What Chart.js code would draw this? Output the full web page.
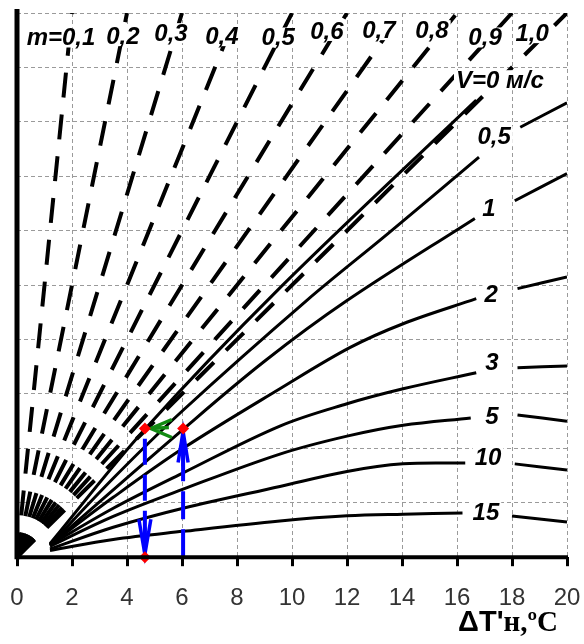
<!DOCTYPE html>
<html>
<head>
<meta charset="utf-8">
<script src="https://cdn.jsdelivr.net/npm/chart.js@4.4.1/dist/chart.umd.min.js"></script>
<style>
  html, body { margin: 0; padding: 0; background: #fff; }
  #wrap { width: 584px; height: 644px; }
</style>
</head>
<body>
<div id="wrap"><canvas id="chart"></canvas></div>
<script>
// x axis ticks
const xTicks = [0, 2, 4, 6, 8, 10, 12, 14, 16, 18, 20];

// dashed rays m = const, from the origin to the top edge
const mLabels = ['m=0,1', '0,2', '0,3', '0,4', '0,5', '0,6', '0,7', '0,8', '0,9', '1,0'];
const mTopX = [2, 4, 6, 8, 10, 12, 14, 16, 18, 20];
const mTopY = [20, 20, 20, 20, 20, 20, 20, 20, 20, 20];

// solid curves V = const (null = gap for the label)
const vLabels = ['V=0 м/с', '0,5', '1', '2', '3', '5', '10', '15'];
const v0   = [[1.2, 0.5], [4.65, 4.7], [9.56, 9.9], [16.7, 16.8]];
const v05  = [[1.2, 0.45], [3.5, 2.9], [6.04, 5.4], [10.53, 9.43], [13.5, 11.9], [16.8, 14.7], [17.5, null], [18.3, 15.8], [20, 16.7]];
const v1   = [[1.2, 0.45], [6.04, 4.7], [9, 7.2], [12, 9.43], [16.65, 12.45], [17.3, null], [18.1, 13.1], [20, 14.1]];
const v2   = [[1.2, 0.45], [3.5, 2.2], [6.04, 4.0], [9.56, 6.19], [12.1, 7.7], [14.04, 8.58], [16.7, 9.5], [17.4, null], [18.2, 9.87], [20, 10.3]];
const v3   = [[1.2, 0.45], [3.5, 1.8], [6.04, 3.1], [9.56, 4.82], [12, 5.64], [14.04, 6.19], [16.7, 6.78], [17.4, null], [18.2, 6.96], [20, 7.03]];
const v5   = [[1.2, 0.4], [3.5, 1.5], [6.04, 2.5], [9.56, 3.79], [12, 4.45], [14.04, 4.85], [16.5, 5.12], [17.3, null], [18.2, 5.23], [20, 5.0]];
const v10  = [[1.2, 0.3], [3.5, 1.1], [6.04, 1.8], [9.56, 2.6], [12, 3.15], [14.04, 3.43], [16.3, 3.46], [17.2, null], [18.1, 3.43], [20, 3.2]];
const v15  = [[1.2, 0.25], [3.5, 0.65], [6.04, 0.95], [9.56, 1.33], [12, 1.52], [14.04, 1.58], [16.2, 1.62], [17.1, null], [18, 1.51], [20, 1.29]];
const vCurves = [v0, v05, v1, v2, v3, v5, v10, v15];

// label anchors (data units)
const mLabelAt = [[1.6, 19.1], [3.85, 19.15], [5.6, 19.26], [7.45, 19.15], [9.5, 19.1],
                  [11.27, 19.34], [13.16, 19.37], [15.09, 19.37], [17.02, 19.1], [18.73, 19.26]];
const vLabelAt = [[17.56, 17.53], [17.35, 15.47], [17.16, 12.82], [17.24, 9.65],
                  [17.27, 7.15], [17.27, 5.16], [17.13, 3.68], [17.05, 1.66]];

// worked example: from dT on the axis up to the curve, left to V=0, down to dT'н
const exampleX = [4.65, 6.04, 4.65];
const exampleY = [4.73, 4.73, 0];

const toPts = arr => arr.map(p => ({ x: p[0], y: p[1] }));

const datasets = [];

// red points
datasets.push({
  data: exampleX.map((v, i) => ({ x: v, y: exampleY[i] })),
  showLine: false,
  pointStyle: 'rectRot',
  pointRadius: 6,
  pointBackgroundColor: '#ff0000',
  pointBorderColor: '#ff0000',
  pointBorderWidth: 0,
  clip: 10,
  order: 0
});

// blue guides
datasets.push({
  data: [{ x: exampleX[1], y: 0 }, { x: exampleX[1], y: 4.35 }],
  showLine: true, pointRadius: 0,
  borderColor: '#0000ff', borderWidth: 4, borderDash: [28, 10],
  order: 1, blueGuide: true
});
datasets.push({
  data: [{ x: exampleX[0], y: 4.35 }, { x: exampleX[0], y: 0.2 }],
  showLine: true, pointRadius: 0,
  borderColor: '#0000ff', borderWidth: 4, borderDash: [26, 10],
  order: 1
});

vCurves.forEach(c => {
  datasets.push({
    data: toPts(c),
    showLine: true, pointRadius: 0,
    borderColor: '#000', borderWidth: 3,
    tension: 0.35, spanGaps: false,
    order: 2
  });
});

mTopX.forEach((tx, i) => {
  datasets.push({
    data: [{ x: 0, y: 0 }, { x: tx, y: mTopY[i] }],
    showLine: true, pointRadius: 0,
    borderColor: '#000', borderWidth: 4, borderDash: [25, 17],
    order: 3
  });
});

const overlay = {
  id: 'overlay',
  afterDatasetDraw(chart, args) {
    // arrows, right after the blue guide so the red points sit on top
    if (!chart.data.datasets[args.index].blueGuide) return;
    const { ctx, scales: { x, y } } = chart;
    const xl = x.getPixelForValue(exampleX[0]);
    const xr = x.getPixelForValue(exampleX[1]);
    const yt = y.getPixelForValue(exampleY[0]);
    const yb = y.getPixelForValue(exampleY[2]);
    ctx.save();
    ctx.strokeStyle = '#0000ff';
    ctx.lineWidth = 3.5;
    ctx.lineJoin = 'miter';
    // up arrow on the right guide
    ctx.beginPath();
    ctx.moveTo(xr - 5, yt + 34); ctx.lineTo(xr, yt + 3); ctx.lineTo(xr + 5, yt + 34);
    ctx.moveTo(xr, yt + 3); ctx.lineTo(xr, yt + 38);
    ctx.stroke();
    // down arrow on the left guide
    ctx.beginPath();
    ctx.moveTo(xl - 6, yb - 38); ctx.lineTo(xl, yb - 3); ctx.lineTo(xl + 6, yb - 38);
    ctx.moveTo(xl, yb - 3); ctx.lineTo(xl, yb - 30);
    ctx.stroke();
    // green arrow to the left
    ctx.strokeStyle = '#128a12';
    ctx.lineWidth = 3.5;
    ctx.beginPath();
    ctx.moveTo(xl + 27, yt - 9); ctx.lineTo(xl + 6, yt); ctx.lineTo(xl + 27, yt + 9);
    ctx.moveTo(xl + 6, yt); ctx.lineTo(xl + 24, yt - 1);
    ctx.stroke();
    ctx.restore();
  },
  afterDraw(chart) {
    const { ctx, chartArea: a, scales: { x, y } } = chart;
    ctx.save();
    // axes
    ctx.strokeStyle = '#000';
    ctx.lineWidth = 5;
    ctx.beginPath();
    ctx.moveTo(a.left, a.top - 4);
    ctx.lineTo(a.left, a.bottom + 2);
    ctx.stroke();
    ctx.lineWidth = 4;
    ctx.beginPath();
    ctx.moveTo(a.left, a.bottom);
    ctx.lineTo(a.right + 1, a.bottom);
    ctx.stroke();

    // curve labels
    ctx.font = 'italic bold 24px "Liberation Sans", Arial, sans-serif';
    ctx.textAlign = 'center';
    ctx.textBaseline = 'middle';
    const label = (t, p) => {
      const px = x.getPixelForValue(p[0]);
      const py = y.getPixelForValue(p[1]);
      const w = ctx.measureText(t).width;
      ctx.fillStyle = '#fff';
      ctx.fillRect(px - w / 2 - 2, py - 10, w + 4, 20);
      ctx.fillStyle = '#000';
      ctx.fillText(t, px, py + 1);
    };
    mLabels.forEach((t, i) => label(t, mLabelAt[i]));
    vLabels.forEach((t, i) => label(t, vLabelAt[i]));

    // axis title
    ctx.textAlign = 'left';
    ctx.textBaseline = 'alphabetic';
    ctx.fillStyle = '#000';
    ctx.font = 'bold 29px "Liberation Sans", Arial, sans-serif';
    const t1 = "ΔT'";
    const w1 = ctx.measureText(t1).width;
    ctx.font = 'bold 29px "Liberation Serif", "Times New Roman", serif';
    const t2 = 'н,ºC';
    const w2 = ctx.measureText(t2).width;
    const tx = 558 - w1 - w2;
    ctx.font = 'bold 29px "Liberation Sans", Arial, sans-serif';
    ctx.fillText(t1, tx, 631);
    ctx.font = 'bold 29px "Liberation Serif", "Times New Roman", serif';
    ctx.fillText(t2, tx + w1, 631);
    ctx.restore();
  }
};

new Chart(document.getElementById('chart'), {
  type: 'scatter',
  data: { datasets },
  options: {
    responsive: true,
    maintainAspectRatio: false,
    animation: false,
    devicePixelRatio: 1,
    layout: { padding: { left: 17, right: 17, top: 13, bottom: 13 } },
    plugins: { legend: { display: false }, tooltip: { enabled: false } },
    scales: {
      x: {
        type: 'linear', min: 0, max: 20,
        afterBuildTicks: s => { s.ticks = xTicks.map(v => ({ value: v })); },
        // labels must not push the plot area in from the sides
        afterFit: s => { s.paddingLeft = 0; s.paddingRight = 0; },
        border: { display: false, dash: [4, 3] },
        grid: { color: '#9a9a9a', lineWidth: 1, drawTicks: true, tickLength: 9, tickWidth: 3, tickColor: '#000', tickBorderDash: [] },
        ticks: { padding: 18, color: '#333', font: { family: '"Liberation Sans Narrow", "Liberation Sans", Arial', size: 24 }, maxRotation: 0 }
      },
      y: {
        type: 'linear', min: 0, max: 20,
        ticks: { display: false, stepSize: 2 },
        afterFit: s => { s.paddingTop = 0; s.paddingBottom = 0; },
        border: { display: false, dash: [4, 3] },
        grid: { color: '#9a9a9a', lineWidth: 1, drawTicks: false }
      }
    }
  },
  plugins: [overlay]
});
</script>
</body>
</html>
